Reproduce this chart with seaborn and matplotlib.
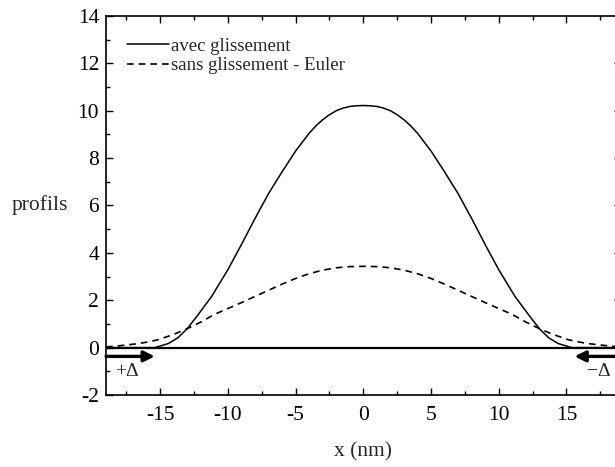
import numpy as np
import pandas as pd
import matplotlib
matplotlib.use("Agg")
import matplotlib.pyplot as plt
import seaborn as sns
from matplotlib.ticker import MultipleLocator

# ==========================================
# données
# ==========================================
x_avec = [-19, -15.4, -14.4, -13.7, -13.0, -12.2, -11.2, -10.0, -9.0, -8.0, -7.0, -6.0,
          -5.0, -4.0, -3.5, -3.0, -2.5, -2.0, -1.5, -1.0, -0.5, 0,
          0.5, 1.0, 1.5, 2.0, 2.5, 3.0, 3.5, 4.0, 5.0, 6.0, 7.0, 8.0, 9.0, 10.0,
          11.2, 12.2, 13.0, 13.7, 14.4, 15.4, 19]
y_avec = [0, 0.0, 0.17, 0.41, 0.80, 1.39, 2.16, 3.29, 4.35, 5.45, 6.50, 7.42,
          8.30, 9.05, 9.36, 9.62, 9.83, 10.00, 10.11, 10.18, 10.21, 10.22,
          10.21, 10.18, 10.11, 10.00, 9.83, 9.62, 9.36, 9.05, 8.30, 7.42, 6.50, 5.45, 4.35, 3.29,
          2.16, 1.39, 0.80, 0.41, 0.17, 0.0, 0]

x_euler = [-19, -18.3, -17.5, -16.6, -15.8, -15.1, -14.0, -13.0, -12.0, -11.0, -10.0,
           -9.0, -8.0, -7.0, -6.0, -5.0, -4.0, -3.0, -2.0, -1.0, 0,
           1.0, 2.0, 3.0, 4.0, 5.0, 6.0, 7.0, 8.0, 9.0, 10.0, 11.0, 12.0, 13.0,
           14.0, 15.1, 15.8, 16.6, 17.5, 18.3, 19]
y_euler = [0.03, 0.06, 0.11, 0.17, 0.25, 0.34, 0.56, 0.80, 1.08, 1.40, 1.65,
           1.90, 2.16, 2.42, 2.68, 2.92, 3.12, 3.27, 3.37, 3.42, 3.43,
           3.42, 3.37, 3.27, 3.12, 2.92, 2.68, 2.42, 2.16, 1.90, 1.65, 1.40, 1.08, 0.80,
           0.56, 0.34, 0.25, 0.17, 0.11, 0.06, 0.03]

labels = ["avec glissement", "sans glissement - Euler"]

df_avec = pd.DataFrame({"x": x_avec, "y": y_avec})
df_euler = pd.DataFrame({"x": x_euler, "y": y_euler})

# ==========================================
# style
# ==========================================
sns.set_style("ticks")
plt.rcParams['font.family'] = ['Liberation Serif', 'DejaVu Serif']
plt.rcParams['axes.unicode_minus'] = False

fig = plt.figure(figsize=(6.15, 4.67), dpi=100)
ax = fig.add_axes([0.1724, 0.1542, 0.8367, 0.8116])

sns.lineplot(data=df_avec, x="x", y="y", ax=ax, color="black", lw=1.1,
             label=labels[0], sort=False)
sns.lineplot(data=df_euler, x="x", y="y", ax=ax, color="black", lw=1.2,
             linestyle=(0, (4, 3)), label=labels[1], sort=False)

ax.axhline(0, color="black", lw=1.6, zorder=1)

# flèches +Δ / −Δ
arrow = dict(arrowstyle="-|>", color="black", lw=2.4, mutation_scale=16,
             shrinkA=0, shrinkB=0)
ax.annotate("", xy=(-15.4, -0.37), xytext=(-19, -0.37), arrowprops=arrow,
            annotation_clip=False)
ax.annotate("", xy=(15.6, -0.37), xytext=(19.2, -0.37), arrowprops=arrow,
            annotation_clip=False)
ax.text(-17.45, -1.0, "+\u0394", fontsize=14, ha="center", va="center")
ax.text(17.4, -1.0, "\u2212\u0394", fontsize=14, ha="center", va="center")

ax.set_xlim(-19, 19)
ax.set_ylim(-2, 14)
ax.xaxis.set_major_locator(MultipleLocator(5))
ax.xaxis.set_minor_locator(MultipleLocator(2.5))
ax.yaxis.set_major_locator(MultipleLocator(2))
ax.yaxis.set_minor_locator(MultipleLocator(1))
ax.tick_params(which="both", direction="in", top=True, right=True,
               labelsize=15.5, width=1.0, colors="black")
ax.tick_params(which="major", length=5, pad=5)
ax.tick_params(axis="x", which="major", pad=8)
ax.tick_params(which="minor", length=3)
for s in ax.spines.values():
    s.set_linewidth(1.2)
    s.set_color("black")

ax.set_xlabel("x (nm)", fontsize=15.5, va="center")
ax.set_ylabel("profils", fontsize=15.5, rotation=0, ha="center", va="center")
ax.xaxis.set_label_coords(0.5, -0.15)
ax.yaxis.set_label_coords(-0.128, 0.501)

ax.legend(loc="upper left", bbox_to_anchor=(0.015, 0.978), frameon=False,
          fontsize=13.5, handlelength=2.25, handletextpad=0.1, labelspacing=0.15,
          borderaxespad=0.3)

fig.savefig("out.png", dpi=100)
